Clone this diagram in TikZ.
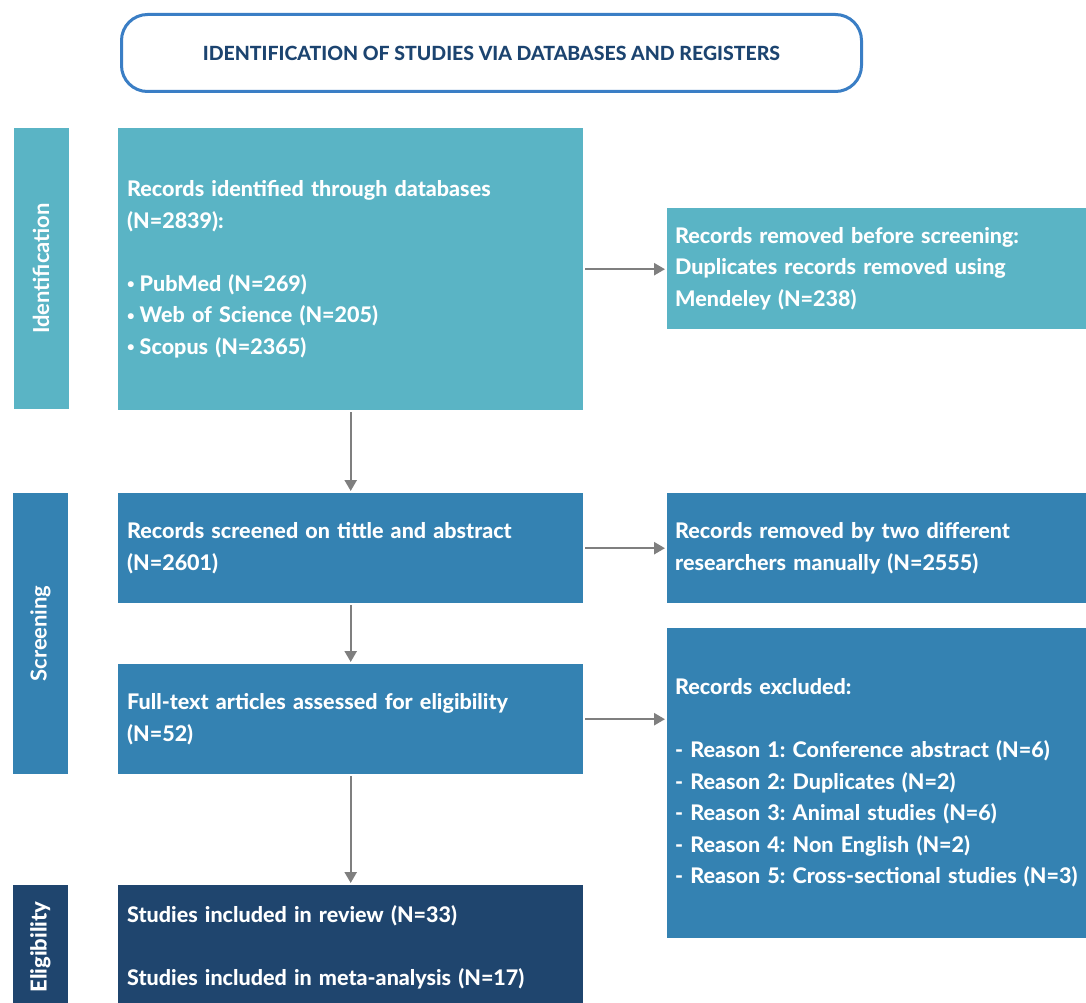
\documentclass[tikz,border=0pt]{standalone}
\usepackage{fontspec}
\setmainfont{Lato}[BoldFont={Lato Heavy}]
\newfontfamily\phasefont{Lato}[UprightFont={Lato Bold}, BoldFont={Lato Heavy}]
\usetikzlibrary{arrows.meta}
\frenchspacing

\definecolor{idteal}{HTML}{5AB4C5}
\definecolor{scrblue}{HTML}{3482B2}
\definecolor{elnavy}{HTML}{1F456E}
\definecolor{frameblue}{HTML}{3A7EC5}
\definecolor{headnavy}{HTML}{1C4470}
\definecolor{flowgray}{HTML}{7F7F7F}

% small list bullet followed by its gap
\newcommand\listdot{\raisebox{2.5pt}{\fontsize{13}{13}\selectfont •}\hspace{5pt}}

\begin{document}
\begin{tikzpicture}[x=1pt, y=-1pt,
  bodyfont/.style={font=\bfseries\fontsize{21.5}{31.5}\selectfont},
  stagebox/.style={rectangle, anchor=north west, inner ysep=0pt, align=left,
    text=white, bodyfont},
  mainbox/.style={stagebox, inner xsep=9pt, text width=447pt},
  sidebox/.style={stagebox, inner xsep=8pt, text width=424pt},
  phase/.style={rectangle, rotate=90, inner sep=0pt, minimum height=55pt,
    text=white, font=\phasefont\fontsize{22}{24}\selectfont},
  flow/.style={draw=flowgray, line width=2.4pt,
    -{Triangle[length=11pt, width=12pt]}, shorten <=2pt, shorten >=2pt},
  heading/.style={rectangle, rounded corners=26pt, draw=frameblue,
    line width=3pt, fill=white, anchor=north west, minimum width=740pt,
    minimum height=77pt, text=headnavy,
    font=\bfseries\fontsize{19.5}{22}\selectfont}
]
\useasboundingbox (0,0) rectangle (1086,1003);
\clip (0,0) rectangle (1086,1003);
\fill[white] (0,0) rectangle (1086,1003);

% heading
\node[heading] (head) at (120,13) {IDENTIFICATION OF STUDIES VIA DATABASES AND REGISTERS};

% phase labels
\node[phase, fill=idteal, minimum width=281pt] (pid) at (41,268.5) {Identification};
\node[phase, fill=scrblue, minimum width=281pt] (pscr) at (40.5,633.5) {Screening};
\node[phase, fill=elnavy, minimum width=124pt] (pel) at (40.5,947) {\bfseries Eligibility};

% main column
\node[mainbox, fill=idteal, minimum height=282pt] (ident) at (118,128)
  {Records identified through databases\\(N=2839):\\[31.5pt]
   \listdot PubMed (N=269)\\\listdot Web of Science (N=205)\\\listdot Scopus (N=2365)};
\node[mainbox, fill=scrblue, minimum height=110pt] (screen) at (118,493)
  {Records screened on tittle and abstract\\(N=2601)};
\node[mainbox, fill=scrblue, minimum height=110pt] (full) at (118,664)
  {Full-text articles assessed for eligibility\\(N=52)};
\node[mainbox, fill=elnavy, minimum height=124pt] (incl) at (118,885)
  {Studies included in review (N=33)\\[31.5pt]Studies included in meta-analysis (N=17)};

% side column
\node[sidebox, fill=idteal, minimum height=121pt] (dup) at (667,208)
  {Records removed before screening:\\Duplicates records removed using\\Mendeley (N=238)};
\node[sidebox, fill=scrblue, minimum height=110pt] (manual) at (667,493)
  {Records removed by two different\\researchers manually (N=2555)};
\node[sidebox, fill=scrblue, minimum height=310pt] (excl) at (667,628)
  {Records excluded:\\[31.5pt]
   - Reason 1: Conference abstract (N=6)\\
   - Reason 2: Duplicates (N=2)\\
   - Reason 3: Animal studies (N=6)\\
   - Reason 4: Non English (N=2)\\
   - Reason 5: Cross-sectional studies (N=3)};

% connectors
\draw[flow] (ident.south) -- (screen.north);
\draw[flow] (screen.south) -- (full.north);
\draw[flow] (full.south) -- (incl.north);
\draw[flow] (ident.east) -- (ident.east -| dup.west);
\draw[flow] (screen.east) -- (manual.west);
\draw[flow] (full.east) -- (full.east -| excl.west);
\end{tikzpicture}
\end{document}
